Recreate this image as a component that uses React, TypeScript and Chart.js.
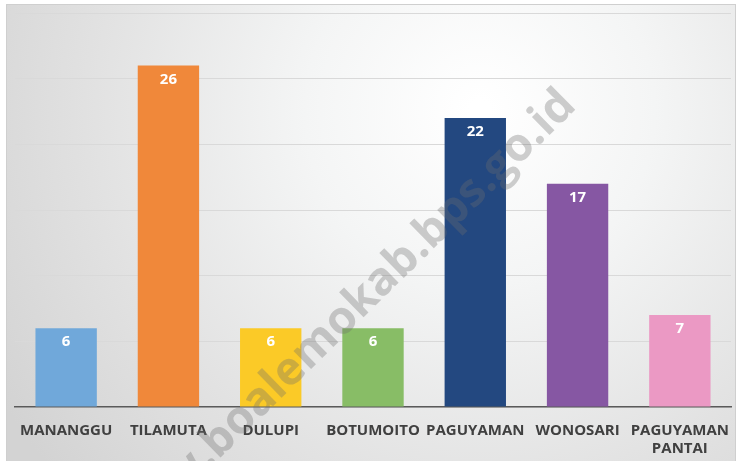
import React, { useEffect, useRef } from "react";
import { Chart, registerables } from "chart.js";

Chart.register(...registerables);

const categories: (string | string[])[] = [
  "MANANGGU",
  "TILAMUTA",
  "DULUPI",
  "BOTUMOITO",
  "PAGUYAMAN",
  "WONOSARI",
  ["PAGUYAMAN", "PANTAI"],
];
const values = [6, 26, 6, 6, 22, 17, 7];
const barColors = ["#70a8da", "#f0883a", "#fbca27", "#88bd66", "#234880", "#8657a3", "#eb99c4"];
const yMin = 0;
const yMax = 30;
const yStep = 5;
const watermarkPrefix = "www.";
const watermark = "boalemokab.bps.go.id";

const FONT = "'Open Sans', 'DejaVu Sans', sans-serif";

const bgPlugin = {
  id: "bgPlugin",
  beforeDraw(chart: any) {
    const { ctx, width, height } = chart;
    ctx.save();
    ctx.fillStyle = "#ffffff";
    ctx.fillRect(0, 0, width, height);
    const x0 = 6, y0 = 4, x1 = width - 3, y1 = height;
    const g = ctx.createRadialGradient(480, 110, 10, 480, 110, 560);
    g.addColorStop(0, "#ffffff");
    g.addColorStop(0.3, "#f4f5f5");
    g.addColorStop(0.7, "#e1e1e1");
    g.addColorStop(1, "#d3d3d3");
    ctx.fillStyle = g;
    ctx.fillRect(x0, y0, x1 - x0, y1 - y0);
    ctx.strokeStyle = "#cfcfcf";
    ctx.lineWidth = 1;
    ctx.strokeRect(x0 + 0.5, y0 + 0.5, x1 - x0 - 1, y1 - y0);
    ctx.restore();
  },
};

const labelPlugin = {
  id: "labelPlugin",
  afterDatasetsDraw(chart: any) {
    const { ctx } = chart;
    const meta = chart.getDatasetMeta(0);
    ctx.save();
    ctx.fillStyle = "#ffffff";
    ctx.font = `bold 15px ${FONT}`;
    ctx.textAlign = "center";
    ctx.textBaseline = "middle";
    meta.data.forEach((bar: any, i: number) => {
      ctx.fillText(String(values[i]), bar.x, bar.y + 14);
    });
    ctx.restore();
  },
  afterDraw(chart: any) {
    const { ctx } = chart;
    ctx.save();
    ctx.translate(218, 460);
    ctx.rotate(-Math.PI / 4 + 0.01);
    ctx.font = `bold 46px ${FONT}`;
    ctx.fillStyle = "rgba(110,110,110,0.33)";
    ctx.textBaseline = "alphabetic";
    ctx.textAlign = "right";
    ctx.fillText(watermarkPrefix, 0, 0);
    ctx.textAlign = "left";
    ctx.fillText(watermark, 0, 0);
    ctx.restore();
  },
};

export default function App() {
  const ref = useRef<HTMLCanvasElement | null>(null);
  useEffect(() => {
    document.body.style.margin = "0";
    if (!ref.current) return;
    const chart = new Chart(ref.current, {
      type: "bar",
      data: {
        labels: categories,
        datasets: [
          {
            data: values,
            backgroundColor: barColors,
            borderWidth: 0,
            categoryPercentage: 1,
            barPercentage: 0.6,
          },
        ],
      },
      options: {
        animation: false,
        responsive: false,
        maintainAspectRatio: false,
        layout: { padding: { left: 15, right: 8, top: 13, bottom: 0 } },
        plugins: { legend: { display: false }, tooltip: { enabled: false } },
        scales: {
          x: {
            grid: { display: false },
            border: { color: "#5a5a5a", width: 1.5 },
            afterFit: (scale: any) => {
              scale.height = 54;
            },
            ticks: {
              color: "#404040",
              font: { family: FONT, size: 15, weight: "bold", lineHeight: 1.25 },
              padding: 6,
              maxRotation: 0,
              autoSkip: false,
            },
          },
          y: {
            min: yMin,
            max: yMax,
            ticks: { display: false, stepSize: yStep },
            grid: { color: "#d9d9d9", lineWidth: 1, drawTicks: false },
            border: { display: false },
          },
        },
      },
      plugins: [bgPlugin, labelPlugin],
    });
    return () => chart.destroy();
  }, []);
  return (
    <div style={{ width: 739, height: 461 }}>
      <canvas ref={ref} width={739} height={461} style={{ width: 739, height: 461, display: "block" }} />
    </div>
  );
}
